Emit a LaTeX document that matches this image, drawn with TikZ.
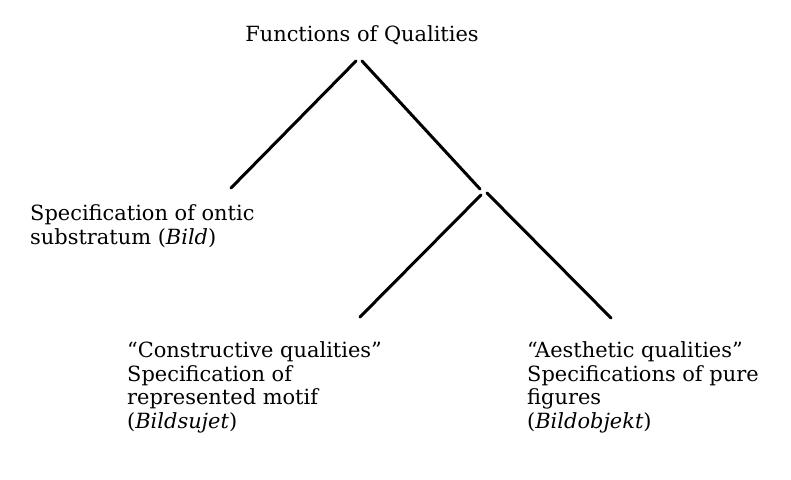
\documentclass[tikz,border=0pt]{standalone}
\usepackage{fontspec}
\setmainfont{DejaVu Serif}
\begin{document}
\begin{tikzpicture}[x=1bp,y=-1bp,
  lbl/.style={inner sep=0pt,font=\fontsize{21}{24}\selectfont,align=left},
  br/.style={line width=3bp,line cap=round}]
\useasboundingbox (0,0) rectangle (791,480);
\node[lbl,anchor=base] (title) at (362,42) {Functions of Qualities};
\node[lbl,anchor=north west] (ontic) at (30,204) {Specification of ontic\\substratum (\textit{Bild})};
\node[lbl,anchor=north west] (cons) at (127,341) {``Constructive qualities''\\Specification of\\represented motif\\(\textit{Bildsujet})};
\node[lbl,anchor=north west] (aest) at (527,341) {``Aesthetic qualities''\\Specifications of pure\\figures\\(\textit{Bildobjekt})};
\coordinate (a1) at (356,61);
\coordinate (a2) at (362,61);
\coordinate (b1) at (231,188);
\coordinate (j1) at (480,189);
\coordinate (j2) at (481,195);
\coordinate (j3) at (487,193);
\coordinate (c1) at (360,317);
\coordinate (d1) at (611,318);
\draw[br] (a1) -- (b1);
\draw[br] (a2) -- (j1);
\draw[br] (j2) -- (c1);
\draw[br] (j3) -- (d1);
\end{tikzpicture}
\end{document}
